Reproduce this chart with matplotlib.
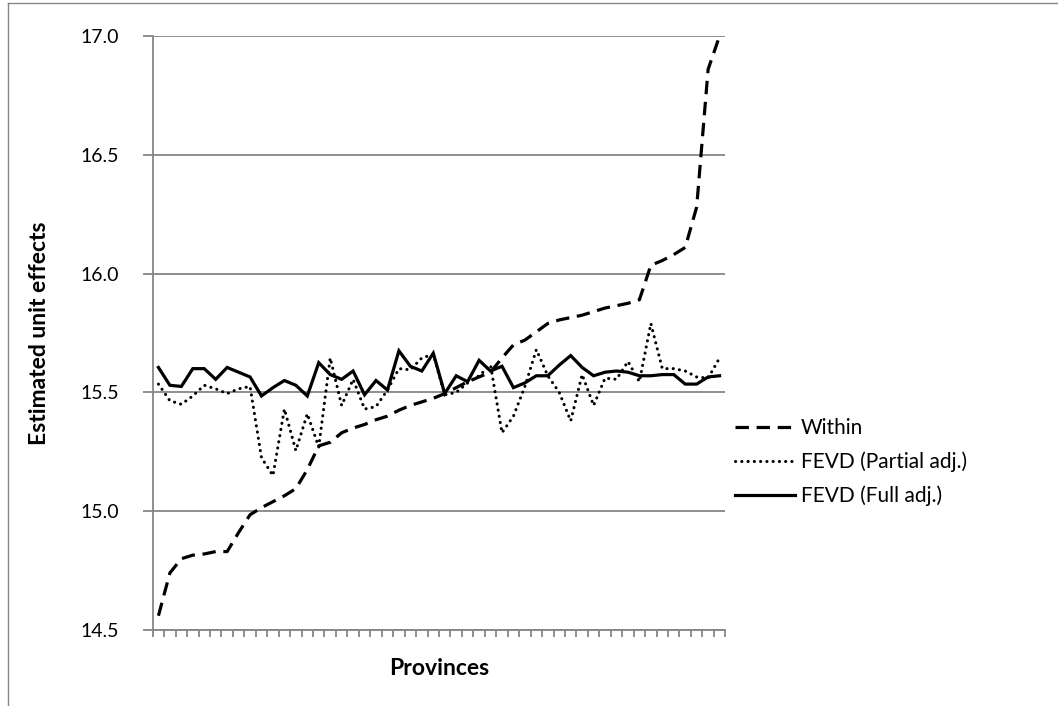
import matplotlib
matplotlib.use("Agg")
import matplotlib.pyplot as plt
from matplotlib.lines import Line2D
import numpy as np

plt.rcParams['font.family'] = ['Lato', 'DejaVu Sans']

provinces = list(range(1, 51))

within = [14.56, 14.74, 14.80, 14.815, 14.82, 14.83, 14.83, 14.91, 14.985, 15.015,
          15.04, 15.065, 15.095, 15.175, 15.275, 15.29, 15.33, 15.35, 15.365, 15.385,
          15.40, 15.425, 15.445, 15.46, 15.475, 15.495, 15.52, 15.545, 15.565, 15.585,
          15.645, 15.70, 15.72, 15.755, 15.79, 15.805, 15.815, 15.825, 15.84, 15.855,
          15.865, 15.875, 15.89, 16.035, 16.055, 16.08, 16.11, 16.28, 16.86, 17.0]

fevd_partial = [15.535, 15.465, 15.45, 15.485, 15.53, 15.515, 15.495, 15.515, 15.525, 15.225,
                15.15, 15.43, 15.255, 15.41, 15.27, 15.645, 15.445, 15.555, 15.43, 15.44,
                15.51, 15.60, 15.595, 15.645, 15.66, 15.49, 15.50, 15.54, 15.57, 15.615,
                15.33, 15.40, 15.525, 15.68, 15.57, 15.50, 15.38, 15.575, 15.445, 15.56,
                15.555, 15.63, 15.545, 15.79, 15.60, 15.60, 15.59, 15.565, 15.56, 15.645]

fevd_full = [15.605, 15.53, 15.525, 15.60, 15.60, 15.555, 15.605, 15.585, 15.565, 15.485,
             15.52, 15.55, 15.53, 15.485, 15.625, 15.575, 15.555, 15.59, 15.49, 15.55,
             15.51, 15.675, 15.61, 15.59, 15.665, 15.495, 15.57, 15.545, 15.635, 15.59,
             15.61, 15.52, 15.54, 15.57, 15.57, 15.615, 15.655, 15.605, 15.57, 15.585,
             15.59, 15.585, 15.57, 15.57, 15.575, 15.575, 15.535, 15.535, 15.565, 15.57]

y_ticks = [14.5, 15.0, 15.5, 16.0, 16.5, 17.0]
labels = ["Within", "FEVD (Partial adj.)", "FEVD (Full adj.)"]

fig = plt.figure(figsize=(10.58, 7.06), dpi=100)
fig.patch.set_facecolor('white')
ax = fig.add_axes([152.7 / 1058, (706 - 630) / 706, (725.3 - 152.7) / 1058, (630 - 36) / 706])

x = np.arange(len(provinces))
ax.plot(x, within, color='black', lw=2.3, linestyle=(0, (4.2, 2.4)),
        dash_capstyle='butt', label=labels[0], zorder=3)
ax.plot(x, fevd_partial, color='black', lw=2.2, linestyle=(0, (0.05, 2.0)),
        dash_capstyle='round', label=labels[1], zorder=3)
ax.plot(x, fevd_full, color='black', lw=2.3, solid_joinstyle='miter', label=labels[2], zorder=3)

ax.set_xlim(-0.5, len(provinces) - 0.5)
ax.set_ylim(14.5, 17.0)
ax.set_yticks(y_ticks)
ax.set_yticklabels([f"{v:.1f}" for v in y_ticks], fontsize=14)
ax.set_xticks(np.arange(-0.5, len(provinces), 1.0))
ax.set_xticklabels([])
ax.grid(axis='y', color='#868686', lw=1.3)
ax.set_axisbelow(True)

for s in ['top', 'right']:
    ax.spines[s].set_visible(False)
for s in ['left', 'bottom']:
    ax.spines[s].set_color('#868686')
    ax.spines[s].set_linewidth(1.3)
ax.tick_params(axis='x', direction='out', length=5, width=1.3, color='#868686')
ax.tick_params(axis='y', direction='out', length=7, width=1.3, color='#868686', pad=17)

ax.set_xlabel("Provinces", fontsize=16.5, fontweight='bold', labelpad=12)
ax.set_ylabel("Estimated unit effects", fontsize=16.5, fontweight='bold', labelpad=22)

leg = ax.legend(loc='center left', bbox_to_anchor=(735 / 1058, (706 - 462) / 706),
                bbox_transform=fig.transFigure, frameon=False, fontsize=15,
                handlelength=2.9, handletextpad=0.25, labelspacing=0.65, borderpad=0,
                borderaxespad=0)

# chart border
fig.add_artist(Line2D([8 / 1058, 8 / 1058], [0, 1 - 3 / 706], color='#868686', lw=1.0))
fig.add_artist(Line2D([8 / 1058, 1], [1 - 3 / 706, 1 - 3 / 706], color='#868686', lw=1.0))

fig.savefig("out.png", dpi=100, facecolor='white')
